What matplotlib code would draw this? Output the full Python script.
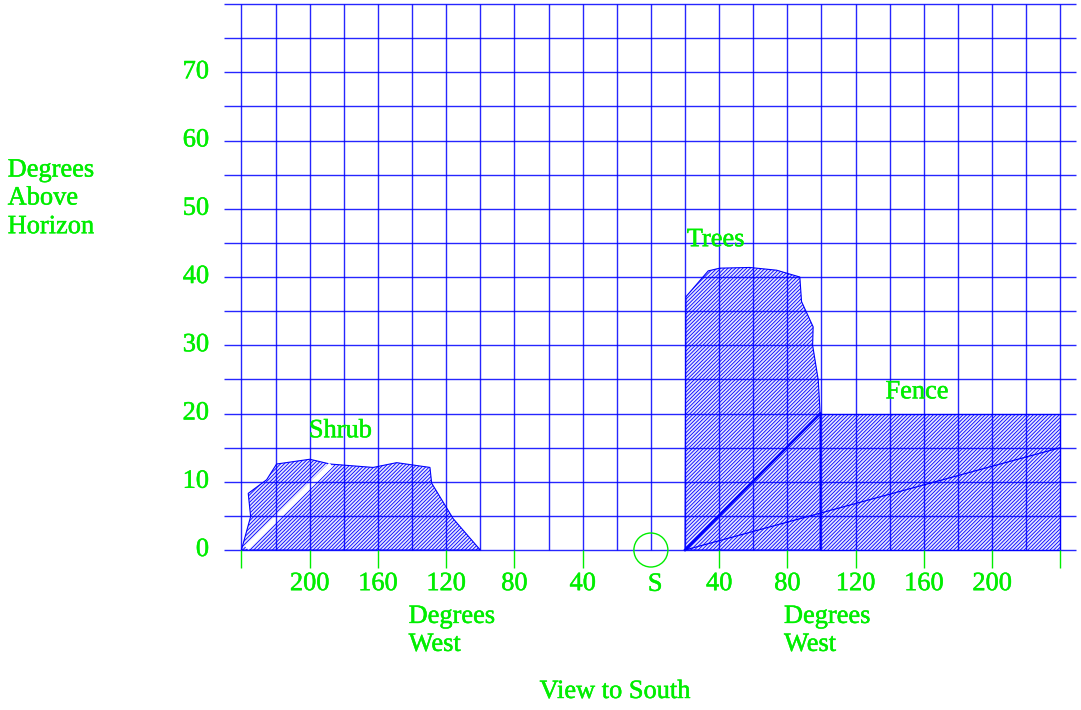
import matplotlib
matplotlib.use("Agg")
import matplotlib.pyplot as plt
import matplotlib.patheffects as pe
from matplotlib.patches import Polygon, Rectangle, Ellipse
import numpy as np

# ---------------- data ----------------
# azimuth in degrees (negative = left of south), elevation in degrees
shrub_x = [-240, -234.6, -236.0, -225.2, -219.4, -199.9, -188.1, -162.8, -149.0, -129.5, -128.5, -115.9, -100]
shrub_y = [0, 4.9, 8.3, 10.3, 12.6, 13.3, 12.6, 12.1, 12.8, 12.1, 9.8, 4.6, 0]

trees_x = [20, 20.5, 33.6, 40.4, 58.0, 73.7, 87.3, 88.3, 95.1, 94.8, 98.1, 99.2, 99.2]
trees_y = [0, 37.1, 40.9, 41.3, 41.4, 41.0, 40.0, 36.4, 32.7, 30.0, 24.9, 20.0, 0]

fence_x = [99.2, 240]
fence_y = [0, 20]

shrub_stripe_x = [-237.0, -187.5]
shrub_stripe_y = [0.3, 12.5]
trees_diag_x = [20, 99.2]
trees_diag_y = [0, 20]
fence_diag_x = [20, 240]
fence_diag_y = [0, 15]

x_tick_pos = [-240, -200, -160, -120, -80, -40, 40, 80, 120, 160, 200, 240]
x_tick_labels = {-200: "200", -160: "160", -120: "120", -80: "80", -40: "40",
                 40: "40", 80: "80", 120: "120", 160: "160", 200: "200"}
y_tick_vals = [0, 10, 20, 30, 40, 50, 60, 70]

vgrid = list(range(-240, 241, 20))
hgrid = list(range(0, 81, 5))

# ---------------- figure ----------------
GREEN = "#00ee00"
BLUE = "#0000ff"
plt.rcParams["hatch.color"] = BLUE
plt.rcParams["hatch.linewidth"] = 0.6
FONT = "Liberation Serif"
FS = 19
HATCH = "/////////"
FILL = "#e4e4ff"

fig = plt.figure(figsize=(10.81, 7.10), dpi=100)
ax = fig.add_axes([0, 0, 1, 1])
ax.set_xlim(-381.5, 252.1)
ax.set_ylim(-23.44, 80.59)
ax.axis("off")

# shapes
ax.add_patch(Polygon(np.column_stack([shrub_x, shrub_y]), closed=True,
                     facecolor=FILL, edgecolor=BLUE, hatch=HATCH, lw=0.8, zorder=1))
ax.plot(shrub_stripe_x, shrub_stripe_y, color="white", lw=3.8, zorder=1.5, solid_capstyle="butt")
ax.add_patch(Polygon(np.column_stack([trees_x, trees_y]), closed=True,
                     facecolor=FILL, edgecolor=BLUE, hatch=HATCH, lw=0.8, zorder=1))
ax.add_patch(Rectangle((fence_x[0], fence_y[0]), fence_x[1] - fence_x[0], fence_y[1] - fence_y[0],
                       facecolor=FILL, edgecolor=BLUE, hatch=HATCH, lw=0.8, zorder=1))
ax.plot(trees_diag_x, trees_diag_y, color=BLUE, lw=1.8, zorder=3)
ax.plot(fence_diag_x, fence_diag_y, color=BLUE, lw=0.9, zorder=3)

# grid
ax.vlines(vgrid, 0, 80, color=BLUE, lw=1.0, alpha=0.85, zorder=2)
ax.hlines(hgrid, -250.3, 249.1, color=BLUE, lw=1.0, alpha=0.85, zorder=2)

# green ticks
ax.vlines(x_tick_pos, -2.7, 0, color=GREEN, lw=1.0, zorder=2)
ax.add_patch(Ellipse((0, 0), 34 / 1.70625, 34 / 6.825, facecolor="none",
                     edgecolor=GREEN, lw=1.0, zorder=4))

txt = dict(color=GREEN, fontsize=FS, family=FONT,
           path_effects=[pe.withStroke(linewidth=0.35, foreground=GREEN)])
for v, lab in x_tick_labels.items():
    ax.text(v, -5.0, lab, ha="center", va="center", **txt)
ax.text(2.5, -5.1, "S", ha="center", va="center", **txt)

for v in y_tick_vals:
    ax.text(-259, v, str(v), ha="right", va="center", **txt)

ax.text(-377, 55.6, "Degrees", ha="left", va="center", **txt)
ax.text(-377, 51.5, "Above", ha="left", va="center", **txt)
ax.text(-377, 47.3, "Horizon", ha="left", va="center", **txt)

ax.text(-182, 17.4, "Shrub", ha="center", va="center", **txt)
ax.text(38, 45.4, "Trees", ha="center", va="center", **txt)
ax.text(156, 23.1, "Fence", ha="center", va="center", **txt)

ax.text(-142, -9.8, "Degrees", ha="left", va="center", **txt)
ax.text(-142, -13.9, "West", ha="left", va="center", **txt)
ax.text(78, -9.8, "Degrees", ha="left", va="center", **txt)
ax.text(78, -13.9, "West", ha="left", va="center", **txt)

ax.text(-21, -20.8, "View to South", ha="center", va="center", **txt)

fig.savefig("out.png", dpi=100)
